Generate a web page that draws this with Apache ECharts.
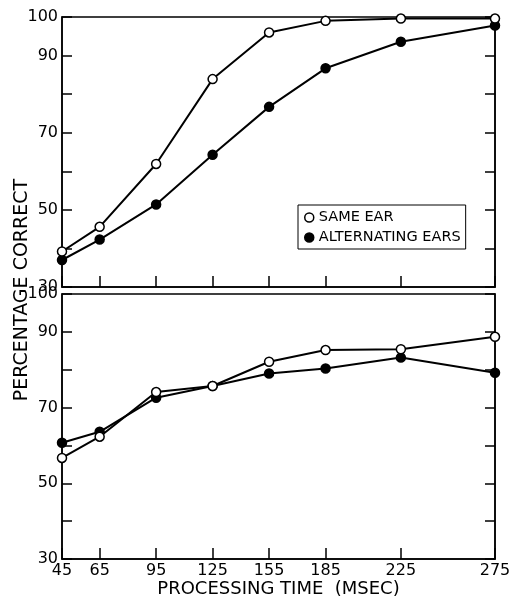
<!DOCTYPE html>
<html>
<head>
<meta charset="utf-8">
<script src="https://cdn.jsdelivr.net/npm/echarts@6/dist/echarts.min.js"></script>
<style>
  html, body { margin: 0; padding: 0; background: #fff; }
  #chart { width: 510px; height: 599px; }
</style>
</head>
<body>
<div id="chart"></div>
<script>
// processing times (msec)
const times = [45, 65, 95, 125, 155, 185, 225, 275];
// upper panel
const topSame = [39.2, 45.6, 61.9, 83.9, 96.0, 99.0, 99.6, 99.6];
const topAlt = [37.0, 42.3, 51.4, 64.3, 76.7, 86.7, 93.6, 97.8];
// lower panel
const botSame = [56.7, 62.3, 74.1, 75.7, 82.1, 85.2, 85.4, 88.7];
const botAlt = [60.7, 63.6, 72.6, 75.7, 79.0, 80.3, 83.2, 79.2];
const yLabels = [30, 50, 70, 90, 100];
const yTicks = [30, 40, 50, 60, 70, 80, 90, 100];

const FONT = 'DejaVu Sans';
const axisLine = { show: true, lineStyle: { color: '#000', width: 1.5 } };

function pairs(ys) {
  return times.map((t, i) => [t, ys[i]]);
}

function xAxisFor(gridIndex, withLabels) {
  return {
    type: 'value', gridIndex: gridIndex, min: 45, max: 275,
    axisLine: axisLine,
    splitLine: { show: false },
    axisTick: { show: true, inside: true, length: 11, customValues: times, lineStyle: { color: '#000', width: 1.5 } },
    axisLabel: withLabels
      ? { show: true, customValues: times, color: '#000', fontFamily: FONT, fontSize: 16, margin: 4 }
      : { show: false },
    name: withLabels ? 'PROCESSING TIME  (MSEC)' : '',
    nameLocation: 'middle',
    nameGap: 18,
    nameTextStyle: { color: '#000', fontFamily: FONT, fontSize: 18, verticalAlign: 'top' }
  };
}

function yAxisFor(gridIndex, side) {
  const left = side === 'left';
  return {
    type: 'value', gridIndex: gridIndex, position: side, min: 30, max: 100,
    axisLine: axisLine,
    splitLine: { show: false },
    axisTick: { show: true, inside: true, length: 10, customValues: yTicks, lineStyle: { color: '#000', width: 1.5 } },
    axisLabel: left
      ? { show: true, customValues: yLabels, color: '#000', fontFamily: FONT, fontSize: 16, margin: 4 }
      : { show: false }
  };
}

function lineSeries(name, data, xi, yi, filled) {
  return {
    name: name, type: 'line', xAxisIndex: xi, yAxisIndex: yi,
    data: pairs(data),
    symbol: 'circle', symbolSize: 9,
    lineStyle: { color: '#000', width: 2 },
    itemStyle: { color: filled ? '#000' : '#fff', borderColor: '#000', borderWidth: 1.5 },
    emphasis: { disabled: true },
    z: filled ? 3 : 4
  };
}

const chart = echarts.init(document.getElementById('chart'));
chart.setOption({
  animation: false,
  backgroundColor: '#fff',
  grid: [
    { left: 62, right: 15, top: 17, bottom: 312, show: true, borderColor: '#000', borderWidth: 1.5, outerBoundsMode: 'none' },
    { left: 62, right: 15, top: 294, bottom: 40, show: true, borderColor: '#000', borderWidth: 1.5, outerBoundsMode: 'none' }
  ],
  xAxis: [xAxisFor(0, false), xAxisFor(1, true)],
  yAxis: [yAxisFor(0, 'left'), yAxisFor(1, 'left'), yAxisFor(0, 'right'), yAxisFor(1, 'right')],
  legend: {
    orient: 'vertical',
    left: 298, top: 205,
    borderColor: '#000', borderWidth: 1,
    padding: [5, 5, 4, 6],
    itemGap: 5,
    itemWidth: 9, itemHeight: 9,
    icon: 'circle',
    textStyle: { color: '#000', fontFamily: FONT, fontSize: 14.5 },
    data: [
      { name: 'SAME EAR', itemStyle: { color: '#fff', borderColor: '#000', borderWidth: 1.5 } },
      { name: 'ALTERNATING EARS', itemStyle: { color: '#000', borderColor: '#000', borderWidth: 1.5 } }
    ]
  },
  graphic: [{
    type: 'text', x: 22, y: 290, rotation: Math.PI / 2,
    style: {
      text: 'PERCENTAGE CORRECT', fill: '#000',
      font: '19px "DejaVu Sans"', align: 'center', verticalAlign: 'middle'
    }
  }],
  series: [
    lineSeries('SAME EAR', topSame, 0, 0, false),
    lineSeries('ALTERNATING EARS', topAlt, 0, 0, true),
    lineSeries('SAME EAR', botSame, 1, 1, false),
    lineSeries('ALTERNATING EARS', botAlt, 1, 1, true)
  ]
});
</script>
</body>
</html>
